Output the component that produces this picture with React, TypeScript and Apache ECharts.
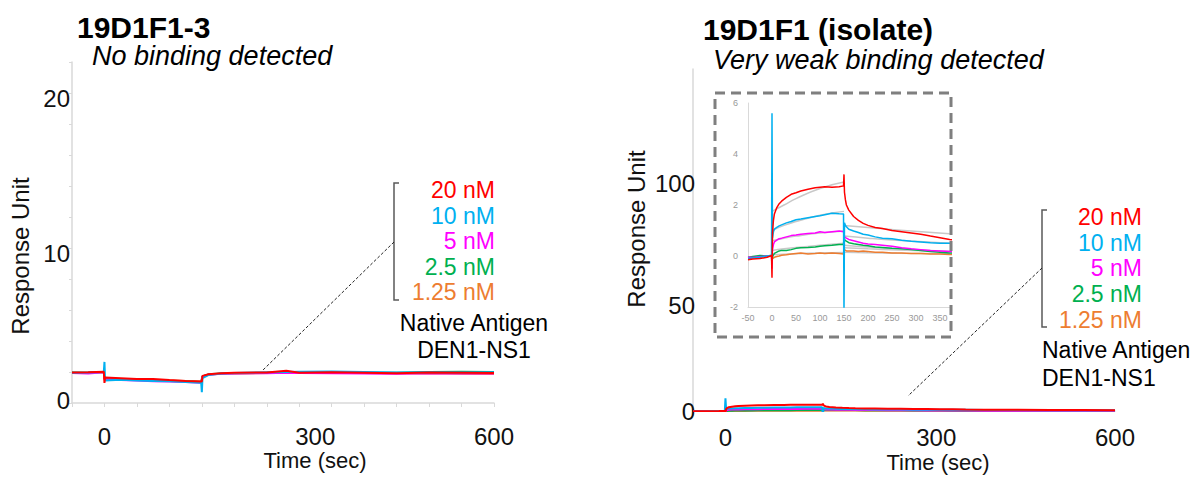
import React, { useEffect, useRef } from 'react';
import * as echarts from 'echarts';

const FONT = '"Liberation Sans", Arial, Helvetica, sans-serif';

// concentrations (legend)
const concLabels = ['20 nM', '10 nM', '5 nM', '2.5 nM', '1.25 nM'];
const concColors = ['#ff0000', '#00b0f0', '#ff00ff', '#00b050', '#ed7d31'];

// axis tick labels
const xTickLabels = [0, 300, 600];
const leftYTickLabels = [0, 10, 20];
const rightYTickLabels = [0, 50, 100];

// ---------- Left panel: 19D1F1-3 (RU) ----------
const leftTime = [-50, -25, -1, 0, 1, 25, 50, 75, 100, 125, 149, 150, 151, 160, 180, 200, 250, 280, 300, 350, 400, 450, 500, 550, 600];
const left20 = [1.97, 1.98, 2.02, 1.3, 1.65, 1.6, 1.55, 1.55, 1.48, 1.42, 1.38, 1.4, 1.75, 1.85, 1.92, 1.95, 1.97, 2.08, 1.95, 1.98, 1.95, 1.92, 1.97, 1.95, 1.93];
const left10 = [1.95, 1.97, 2.0, 2.65, 1.45, 1.5, 1.45, 1.42, 1.4, 1.35, 1.3, 0.7, 1.6, 1.8, 1.9, 1.93, 1.98, 2.0, 2.02, 2.03, 2.0, 1.97, 1.98, 1.97, 1.98];
const left5 = [1.93, 1.9, 1.98, 1.5, 1.55, 1.48, 1.45, 1.4, 1.38, 1.35, 1.3, 1.5, 1.7, 1.82, 1.88, 1.9, 1.92, 1.95, 1.93, 1.92, 1.9, 1.88, 1.92, 1.9, 1.9];
const left2p5 = [1.96, 1.95, 2.0, 1.55, 1.6, 1.52, 1.5, 1.45, 1.42, 1.4, 1.35, 1.55, 1.72, 1.85, 1.9, 1.92, 1.95, 1.97, 1.96, 1.97, 1.95, 1.95, 2.0, 2.02, 2.0];
const left1p25 = [1.95, 1.96, 1.99, 1.55, 1.6, 1.55, 1.5, 1.48, 1.45, 1.42, 1.38, 1.55, 1.72, 1.83, 1.9, 1.9, 1.93, 1.95, 1.94, 1.95, 1.93, 1.9, 1.92, 1.88, 1.87];

// ---------- Right panel: 19D1F1 (isolate) (RU) ----------
const rightTime = [-50, -40, -25, -10, -1, 0, 1, 3, 5, 10, 15, 20, 30, 40, 50, 60, 75, 90, 100, 110, 125, 140, 149, 150, 151, 153, 155, 160, 170, 180, 190, 200, 215, 230, 250, 270, 290, 310, 330, 350, 370, 400, 450, 500, 550, 600];
const right20 = [-0.15, -0.12, -0.1, -0.05, 0.02, -0.85, 0.9, 1.4, 1.65, 1.9, 2.05, 2.15, 2.3, 2.42, 2.48, 2.55, 2.62, 2.68, 2.7, 2.72, 2.7, 2.72, 2.75, 3.2, 2.5, 2.2, 2.0, 1.8, 1.55, 1.4, 1.28, 1.2, 1.12, 1.08, 1.0, 0.95, 0.9, 0.85, 0.78, 0.72, 0.65, 0.6, 0.52, 0.45, 0.4, 0.35];
const right10 = [-0.1, -0.08, -0.05, 0.0, 0.03, 5.6, 0.7, 0.95, 1.05, 1.12, 1.18, 1.22, 1.3, 1.35, 1.42, 1.45, 1.5, 1.55, 1.58, 1.62, 1.68, 1.66, 1.65, -2.3, 1.3, 1.2, 1.15, 1.05, 0.98, 0.92, 0.85, 0.82, 0.75, 0.7, 0.68, 0.62, 0.58, 0.55, 0.52, 0.5, 0.5, 0.45, 0.4, 0.35, 0.3, 0.28];
const right5 = [-0.05, -0.06, -0.03, 0.0, 0.02, -0.5, 0.25, 0.45, 0.55, 0.62, 0.68, 0.7, 0.75, 0.8, 0.82, 0.85, 0.88, 0.9, 0.95, 0.92, 0.95, 0.98, 0.95, 0.9, 0.75, 0.72, 0.7, 0.65, 0.6, 0.55, 0.5, 0.47, 0.45, 0.42, 0.38, 0.32, 0.28, 0.25, 0.22, 0.2, 0.18, 0.16, 0.14, 0.12, 0.1, 0.1];
const right2p5 = [-0.05, -0.02, 0.02, 0.0, 0.02, -0.3, -0.05, 0.05, 0.1, 0.15, 0.2, 0.22, 0.22, 0.25, 0.3, 0.32, 0.33, 0.35, 0.38, 0.4, 0.42, 0.45, 0.45, 0.7, 0.65, 0.6, 0.58, 0.52, 0.48, 0.45, 0.42, 0.4, 0.35, 0.33, 0.3, 0.28, 0.25, 0.22, 0.18, 0.15, 0.12, 0.1, 0.08, 0.07, 0.05, 0.05];
const right1p25 = [-0.08, -0.05, -0.03, 0.0, 0.0, -0.1, -0.1, -0.08, -0.05, -0.02, 0.0, 0.03, 0.05, 0.08, 0.1, 0.12, 0.08, 0.1, 0.12, 0.1, 0.12, 0.1, 0.08, 0.3, 0.25, 0.22, 0.2, 0.2, 0.2, 0.18, 0.2, 0.18, 0.15, 0.15, 0.12, 0.12, 0.1, 0.1, 0.08, 0.08, 0.06, 0.05, 0.05, 0.04, 0.03, 0.03];

// fitted curves shown in the inset (gray)
const fitAssocTime = [0, 25, 50, 100, 150];
const fitAssoc20 = [1.75, 2.0, 2.25, 2.65, 2.9];
const fitAssoc10 = [1.0, 1.2, 1.35, 1.6, 1.75];
const fitAssoc5 = [0.6, 0.7, 0.78, 0.9, 0.98];
const fitAssoc2p5 = [0.22, 0.28, 0.33, 0.42, 0.5];
const fitAssoc1p25 = [0.05, 0.07, 0.09, 0.12, 0.14];
const fitDissTime = [150, 200, 260, 370];
const fitDiss20 = [1.2, 1.12, 1.02, 0.87];
const fitDiss10 = [0.78, 0.7, 0.62, 0.5];
const fitDiss5 = [0.32, 0.28, 0.24, 0.18];
const fitDiss2p5 = [0.42, 0.35, 0.28, 0.18];
const fitDiss1p25 = [0.15, 0.13, 0.11, 0.09];

const zip = (t: number[], v: number[]) => t.map((x, i) => [x, v[i]]);

export default function App() {
  const ref = useRef<HTMLDivElement>(null);

  useEffect(() => {
    if (!ref.current) return;
    const chart = echarts.init(ref.current, undefined, { renderer: 'svg' });

    const leftSets = [left20, left10, left5, left2p5, left1p25];
    const rightSets = [right20, right10, right5, right2p5, right1p25];
    const fitA = [fitAssoc20, fitAssoc10, fitAssoc5, fitAssoc2p5, fitAssoc1p25];
    const fitD = [fitDiss20, fitDiss10, fitDiss5, fitDiss2p5, fitDiss1p25];

    const order = [4, 3, 2, 1, 0];
    const series: any[] = [];
    order.forEach((i) => {
      series.push({
        type: 'line', xAxisIndex: 0, yAxisIndex: 0, name: 'L ' + concLabels[i],
        data: zip(leftTime, leftSets[i]), showSymbol: false, symbol: 'none',
        lineStyle: { color: concColors[i], width: 2 }, z: 3,
      });
    });
    order.forEach((i) => {
      series.push({
        type: 'line', xAxisIndex: 1, yAxisIndex: 1, name: 'R ' + concLabels[i],
        data: zip(rightTime, rightSets[i]), showSymbol: false, symbol: 'none',
        lineStyle: { color: concColors[i], width: 2 }, z: 3,
      });
    });
    order.forEach((i) => {
      series.push({
        type: 'line', xAxisIndex: 2, yAxisIndex: 2, name: 'fitA ' + concLabels[i],
        data: zip(fitAssocTime, fitA[i]), showSymbol: false, symbol: 'none', smooth: true,
        lineStyle: { color: '#c8c8c8', width: 1.5 }, z: 2,
      });
      series.push({
        type: 'line', xAxisIndex: 2, yAxisIndex: 2, name: 'fitD ' + concLabels[i],
        data: zip(fitDissTime, fitD[i]), showSymbol: false, symbol: 'none', smooth: true,
        lineStyle: { color: '#c8c8c8', width: 1.5 }, z: 2,
      });
    });
    order.forEach((i) => {
      series.push({
        type: 'line', xAxisIndex: 2, yAxisIndex: 2, name: 'I ' + concLabels[i],
        data: zip(rightTime, rightSets[i]), showSymbol: false, symbol: 'none',
        lineStyle: { color: concColors[i], width: 1.5 }, z: 3,
      });
    });

    const axisGray = '#d9d9d9';
    const tickFont = { fontSize: 24, fontFamily: FONT, color: '#111' };

    const xFmt = (v: number) => {
      if (!xTickLabels.includes(v)) return '';
      return v === 300 ? '{s|' + v + '}' : '{n|' + v + '}';
    };
    const xRich = {
      n: { ...tickFont },
      s: { ...tickFont, padding: [0, 0, 0, 32] },
    };

    const legendGraphics = (xRight: number, yStart: number, step: number) =>
      concLabels.map((lab, i) => ({
        type: 'text', x: xRight, y: yStart + i * step,
        style: { text: lab, fill: concColors[i], font: '23px ' + FONT, textAlign: 'right', textVerticalAlign: 'middle' },
      }));

    const option: any = {
      animation: false,
      backgroundColor: '#ffffff',
      grid: [
        { left: 72, top: 62, width: 422, height: 341 },
        { left: 693, top: 69, width: 422, height: 342 },
        { left: 748, top: 103, width: 201.6, height: 204, show: true, backgroundColor: '#ffffff', borderWidth: 0 },
      ],
      xAxis: [
        {
          type: 'value', gridIndex: 0, min: -50, max: 600, interval: 50,
          axisLine: { show: true, onZero: false, lineStyle: { color: axisGray, width: 1.5 } },
          axisTick: { show: true, length: 4, lineStyle: { color: axisGray } },
          splitLine: { show: false },
          axisLabel: { margin: 21, formatter: xFmt, rich: xRich, ...tickFont },
        },
        {
          type: 'value', gridIndex: 1, min: -50, max: 600, interval: 50,
          axisLine: { show: true, onZero: false, lineStyle: { color: axisGray, width: 1.5 } },
          axisTick: { show: false },
          splitLine: { show: false },
          axisLabel: { margin: 14, formatter: xFmt, rich: xRich, ...tickFont },
        },
        {
          type: 'value', gridIndex: 2, min: -50, max: 370, interval: 50,
          axisLine: { show: true, onZero: false, lineStyle: { color: axisGray } },
          axisTick: { show: false },
          splitLine: { show: false },
          axisLabel: { margin: 6, fontSize: 9, fontFamily: FONT, color: '#999999', showMaxLabel: false },
        },
      ],
      yAxis: [
        {
          type: 'value', gridIndex: 0, min: 0, max: 22, interval: 2,
          axisLine: { show: true, onZero: false, lineStyle: { color: axisGray, width: 1.5 } },
          axisTick: { show: true, length: 3, lineStyle: { color: axisGray } },
          splitLine: { show: false },
          axisLabel: {
            margin: 2, ...tickFont,
            formatter: (v: number) => {
              if (!leftYTickLabels.includes(v)) return '';
              return v === 0 ? '{u|0}' : '{d|' + v + '}';
            },
            rich: { u: { ...tickFont, padding: [0, 0, 6, 0] }, d: { ...tickFont, padding: [10, 0, 0, 0] } },
          },
        },
        {
          type: 'value', gridIndex: 1, min: 0, max: 150, interval: 50,
          axisLine: { show: true, onZero: false, lineStyle: { color: axisGray, width: 1.5 } },
          axisTick: { show: false },
          splitLine: { show: false },
          axisLabel: {
            margin: -2, ...tickFont,
            formatter: (v: number) => {
              if (!rightYTickLabels.includes(v)) return '';
              return v === 50 ? '{d|50}' : '{n|' + v + '}';
            },
            rich: { n: { ...tickFont }, d: { ...tickFont, padding: [16, 0, 0, 0] } },
          },
        },
        {
          type: 'value', gridIndex: 2, min: -2, max: 6, interval: 2,
          axisLine: { show: true, onZero: false, lineStyle: { color: axisGray } },
          axisTick: { show: false },
          splitLine: { show: false },
          axisLabel: { margin: 10, fontSize: 9, fontFamily: FONT, color: '#999999' },
        },
      ],
      series,
      graphic: [
        // titles
        { type: 'text', x: 77, y: 27, style: { text: '19D1F1-3', font: 'bold 30px ' + FONT, fill: '#000', textVerticalAlign: 'middle' } },
        { type: 'text', x: 92, y: 56, style: { text: 'No binding detected', font: 'italic 27px ' + FONT, fill: '#000', textVerticalAlign: 'middle' } },
        { type: 'text', x: 703, y: 29, style: { text: '19D1F1 (isolate)', font: 'bold 30px ' + FONT, fill: '#000', textVerticalAlign: 'middle' } },
        { type: 'text', x: 713, y: 60, style: { text: 'Very weak binding detected', font: 'italic 27px ' + FONT, fill: '#000', textVerticalAlign: 'middle' } },
        // axis names
        { type: 'text', x: 20, y: 256, rotation: Math.PI / 2, style: { text: 'Response Unit', font: '24px ' + FONT, fill: '#111', textAlign: 'center', textVerticalAlign: 'middle' } },
        { type: 'text', x: 636, y: 229, rotation: Math.PI / 2, style: { text: 'Response Unit', font: '24px ' + FONT, fill: '#111', textAlign: 'center', textVerticalAlign: 'middle' } },
        { type: 'text', x: 315, y: 460, style: { text: 'Time (sec)', font: '22px ' + FONT, fill: '#111', textAlign: 'center', textVerticalAlign: 'middle' } },
        { type: 'text', x: 938, y: 462, style: { text: 'Time (sec)', font: '22px ' + FONT, fill: '#111', textAlign: 'center', textVerticalAlign: 'middle' } },
        // left legend
        ...legendGraphics(495, 190, 25.6),
        { type: 'polyline', shape: { points: [[399, 183], [394, 183], [394, 300], [399, 300]] }, style: { stroke: '#595959', lineWidth: 1.5, fill: 'none' } },
        { type: 'line', shape: { x1: 394, y1: 242, x2: 262, y2: 371 }, style: { stroke: '#222', lineWidth: 1, lineDash: [3, 2] } },
        { type: 'text', x: 474, y: 323, style: { text: 'Native Antigen', font: '23px ' + FONT, fill: '#000', textAlign: 'center', textVerticalAlign: 'middle' } },
        { type: 'text', x: 474, y: 350, style: { text: 'DEN1-NS1', font: '23px ' + FONT, fill: '#000', textAlign: 'center', textVerticalAlign: 'middle' } },
        // right legend
        ...legendGraphics(1142, 217, 25.7),
        { type: 'polyline', shape: { points: [[1047, 210], [1042, 210], [1042, 327], [1047, 327]] }, style: { stroke: '#595959', lineWidth: 1.5, fill: 'none' } },
        { type: 'line', shape: { x1: 1042, y1: 268, x2: 908, y2: 396 }, style: { stroke: '#222', lineWidth: 1, lineDash: [3, 2] } },
        { type: 'text', x: 1042, y: 350, style: { text: 'Native Antigen', font: '23px ' + FONT, fill: '#000', textAlign: 'left', textVerticalAlign: 'middle' } },
        { type: 'text', x: 1042, y: 378, style: { text: 'DEN1-NS1', font: '23px ' + FONT, fill: '#000', textAlign: 'left', textVerticalAlign: 'middle' } },
        // inset frame
        { type: 'rect', shape: { x: 715, y: 93, width: 236, height: 244 }, style: { fill: 'none', stroke: '#7f7f7f', lineWidth: 3, lineDash: [10, 6] }, z: 10 },
      ],
    };

    chart.setOption(option);
    return () => chart.dispose();
  }, []);

  return <div ref={ref} style={{ position: 'absolute', left: 0, top: 0, width: 1202, height: 477 }} />;
}
